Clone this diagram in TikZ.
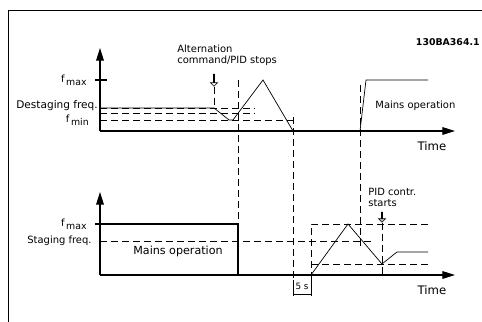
\documentclass[tikz,border=0pt]{standalone}
\usepackage{fontspec}
\setmainfont{DejaVu Sans}
\usetikzlibrary{arrows.meta,positioning,shapes.arrows}
\newcommand{\fsub}[1]{f\,\raisebox{-0.6ex}{\footnotesize #1}}

\begin{document}
\begin{tikzpicture}[
    x=0.3mm, y=-0.3mm,
    >={Triangle[length=3.8mm, width=2.3mm]},
    axis/.style={line width=1pt},
    curve/.style={line width=0.6pt},
    guide/.style={line width=0.65pt, dash pattern=on 2.1mm off 1.2mm},
    lbl/.style={font=\fontsize{8.5}{9}\selectfont, inner sep=1pt},
    hollowarr/.style={single arrow, draw, line width=0.5pt, shape border rotate=270,
        minimum height=3.6mm, minimum width=2.1mm, single arrow head extend=0.55mm, inner sep=0pt}
]
    \useasboundingbox (0,0) rectangle (482,322);
    \draw[line width=0.7pt] (8,322) -- (8,10) -- (482,10);

    % upper plot
    \coordinate (O1) at (100,131);
    \coordinate (Y1) at (100,48);
    \coordinate (X1) at (455,131);
    \coordinate (T1) at (95,80);
    \draw[axis,->] (O1) -- (Y1);
    \draw[axis,->] (O1) -- (X1);
    \draw[axis] (T1) -- (107,80);

    \draw[guide] (100,108) -- (255,108);
    \draw[guide] (100,113) -- (255,113);
    \draw[guide] (100,120) -- (297,120);
    \draw[curve] (100,108) -- (214,108) -- (229,120) -- (233,120) -- (263,80)
        -- (293,131) -- (360,131) -- (366,80) -- (428,80);

    \node[hollowarr] (altArrow) at (214,80) {};
    \draw[guide] (altArrow.south) -- (214,108);
    \draw[guide] (238,80) -- (238,224);
    \draw[guide] (293,117) -- (293,283);
    \draw[guide] (360,85) -- (360,246);

    \node[lbl, left=2.1mm of T1] (fmaxA) {\fsub{max}};
    \node[lbl, font=\fontsize{9}{10}\selectfont, anchor=east, inner sep=0pt] (destag) at (98,106) {Destaging freq.};
    \node[lbl, anchor=east, inner sep=0pt] (fminA) at (89,120) {\fsub{min}};
    \node[lbl, anchor=north west, align=left] (altTxt) at (176,44) {Alternation\\command/PID stops};
    \node[lbl, anchor=west] (mainsA) at (374,106) {Mains operation};
    \node[lbl, font=\fontsize{10}{11}\selectfont] (timeA) at (432,146) {Time};
    \node[lbl, font=\bfseries\fontsize{8}{9}\selectfont, anchor=east] (code) at (481,42) {130BA364.1};

    % lower plot
    \coordinate (O2) at (100,275);
    \coordinate (Y2) at (100,192);
    \coordinate (X2) at (455,275);
    \coordinate (T2) at (95,224);
    \draw[axis,->] (O2) -- (Y2);
    \draw[axis,->] (O2) -- (X2);
    \draw[axis] (T2) -- (238,224) -- (238,275);

    \draw[guide] (100,241) -- (371,241);
    \draw[guide] (428,224) -- (311,224) -- (311,275);
    \draw[guide] (311,264) -- (428,264);
    \draw[curve] (311,275) -- (348,224) -- (382,264) -- (397,252) -- (428,252);

    \node[hollowarr, fill=gray!50, minimum height=3mm] (pidArrow) at (382,217) {};
    \draw[guide] (pidArrow.south) -- (382,274);

    \draw[curve] (293,280) -- (293,296);
    \draw[curve] (311,275) -- (311,296);
    \draw[curve] (293,294) -- (311,294);

    \node[lbl, left=2.1mm of T2] (fmaxB) {\fsub{max}};
    \node[lbl, anchor=east] (stag) at (93,241) {Staging freq.};
    \node[lbl, font=\fontsize{9.5}{11}\selectfont] (mainsB) at (178,251) {Mains operation};
    \node[lbl, anchor=north west, align=left] (pidTxt) at (367,187) {PID contr.\\starts};
    \node[lbl, font=\fontsize{7.5}{9}\selectfont] (fiveS) at (302,286) {5 s};
    \node[lbl, font=\fontsize{10}{11}\selectfont] (timeB) at (432,290) {Time};
\end{tikzpicture}
\end{document}
